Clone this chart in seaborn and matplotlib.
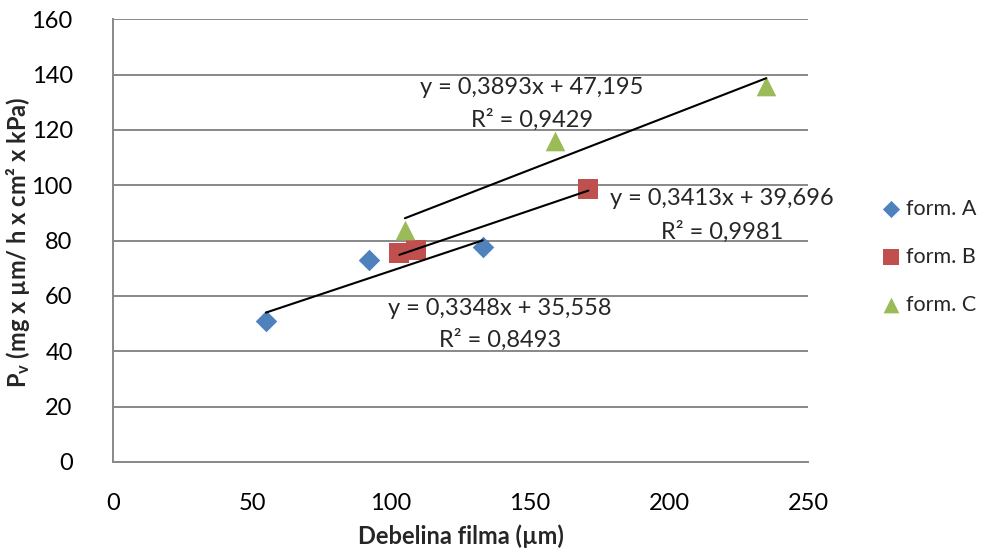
import numpy as np
import pandas as pd
import matplotlib
matplotlib.use("Agg")
import matplotlib.pyplot as plt
import seaborn as sns

# Measured film thickness (µm) and water vapour permeability for each formulation
series_names = ["form. A", "form. B", "form. C"]
thickness_a = [55, 92, 133]
perm_a = [51, 73, 77.5]
thickness_b = [103, 109, 171]
perm_b = [75.5, 76.5, 98.5]
thickness_c = [105, 159, 235]
perm_c = [84, 116, 136]

# Linear trendline coefficients (slope, intercept) and R² values
slopes = [0.3348, 0.3413, 0.3893]
intercepts = [35.558, 39.696, 47.195]
r_squared = [0.8493, 0.9981, 0.9429]

x_ticks = [0, 50, 100, 150, 200, 250]
y_ticks = [0, 20, 40, 60, 80, 100, 120, 140, 160]

colors = ["#4F81BD", "#C0504D", "#9BBB59"]
markers = ["D", "s", "^"]
marker_sizes = [120, 190, 200]

df = pd.DataFrame({
    "x": thickness_a + thickness_b + thickness_c,
    "y": perm_a + perm_b + perm_c,
    "series": ([series_names[0]] * len(thickness_a)
               + [series_names[1]] * len(thickness_b)
               + [series_names[2]] * len(thickness_c)),
})

sns.set_theme(style="white")
plt.rcParams["font.family"] = ["Lato", "DejaVu Sans"]
plt.rcParams["mathtext.fontset"] = "custom"
plt.rcParams["mathtext.rm"] = "Lato"
plt.rcParams["mathtext.bf"] = "Lato:bold"

FS = 17

fig = plt.figure(figsize=(9.88, 5.48), dpi=100)
ax = fig.add_axes([0.1144, 0.157, 0.7034, 0.808])

grid_color = "#888888"
for yv in y_ticks:
    ax.axhline(yv, color=grid_color, lw=1.4, zorder=0)

# Trendlines drawn over each series' thickness range
groups = [thickness_a, thickness_b, thickness_c]
for xs, m, b in zip(groups, slopes, intercepts):
    xr = np.array([min(xs), max(xs)])
    ax.plot(xr, m * xr + b, color="black", lw=1.5, zorder=3)

for name, col, mk, ms in zip(series_names, colors, markers, marker_sizes):
    sub = df[df["series"] == name]
    sns.scatterplot(data=sub, x="x", y="y", color=col, marker=mk, s=ms,
                    linewidth=0, ax=ax, label=name, zorder=2)

# Equation labels (x centre, y of equation line, y of R² line)
eq_pos = [(139.2, 55.6, 44.1), (219.1, 95.3, 83.3), (150.7, 135.4, 123.5)]
for (tx, ty1, ty2), m, b, r2 in zip(eq_pos, slopes, intercepts, r_squared):
    eq = f"y = {m:.4f}x + {b:.3f}".replace(".", ",")
    r = f"R² = {r2:.4f}".replace(".", ",")
    ax.text(tx, ty1, eq, ha="center", va="center", fontsize=FS, zorder=4)
    ax.text(tx, ty2, r, ha="center", va="center", fontsize=FS, zorder=4)

ax.set_xlim(0, 250)
ax.set_ylim(0, 160)
ax.set_xticks(x_ticks)
ax.set_yticks(y_ticks)
ax.tick_params(axis="both", labelsize=FS, colors="black")
ax.tick_params(axis="y", length=5, color=grid_color, width=1.4, pad=24)
ax.tick_params(axis="x", length=0, pad=22)

for side in ["top", "right"]:
    ax.spines[side].set_visible(False)
for side in ["left", "bottom"]:
    ax.spines[side].set_color(grid_color)
    ax.spines[side].set_linewidth(1.4)

ax.set_xlabel("Debelina filma (µm)", fontsize=FS, fontweight="bold")
ax.xaxis.set_label_coords(0.5, -0.142)
ax.set_ylabel(r"$\mathbf{P_v}$ (mg x µm/ h x cm² x kPa)", fontsize=FS,
              fontweight="bold")
ax.yaxis.set_label_coords(-0.117, 0.497)

ax.legend(loc="center left", bbox_to_anchor=(1.091, 0.463), frameon=False,
          fontsize=15.5, handlelength=1.0, handletextpad=0.2, labelspacing=1.3,
          markerscale=0.8, borderaxespad=0)

fig.savefig("out.png", dpi=100)
